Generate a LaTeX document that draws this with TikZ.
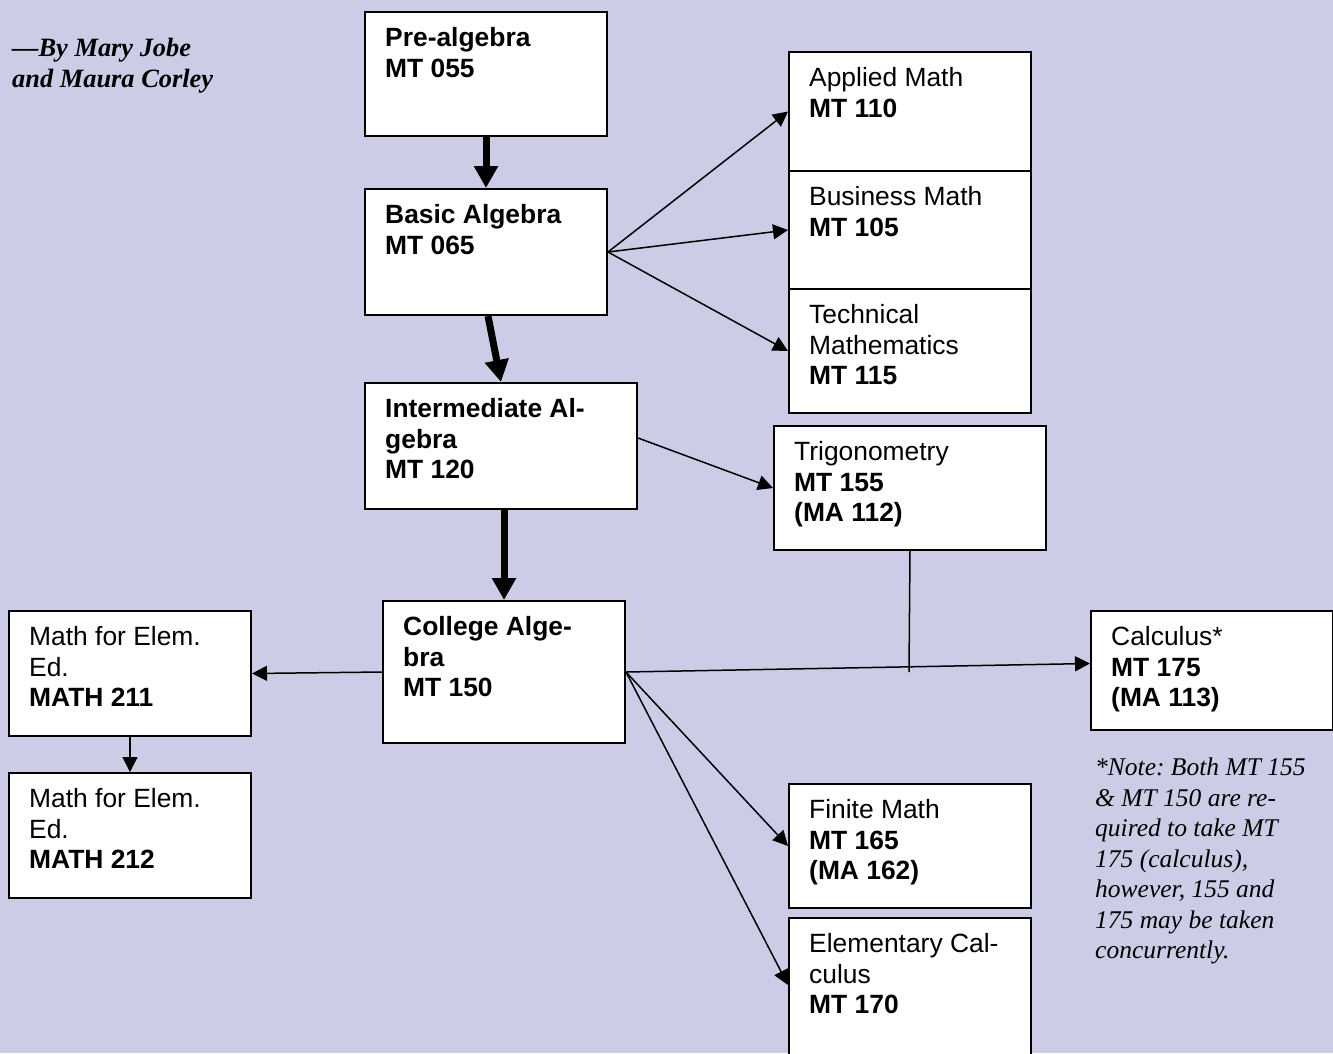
\documentclass[tikz,border=0pt]{standalone}
\usepackage{fontspec}
\setmainfont{Liberation Sans}
\newfontfamily\serifface{Liberation Serif}
\usetikzlibrary{arrows.meta,calc}
\definecolor{bg}{RGB}{204,204,230}
\frenchspacing
\begin{document}
\begin{tikzpicture}[x=1pt,y=-1pt,
  box/.style={draw=black, line width=2pt, fill=white, rectangle, anchor=north west, inner sep=0pt},
  lbl/.style={anchor=north west, inner sep=0pt, align=left, font=\fontsize{26.4}{30.5}\selectfont},
  thinarrow/.style={line width=1.5pt, -{Triangle[length=15pt,width=15pt]}},
  thickarrow/.style={line width=7pt, -{Triangle[length=22pt,width=23pt]}}]
\fill[bg] (0,0) rectangle (1333,1053);
\useasboundingbox (0,0) rectangle (1333,1053);

% boxes
\node[box, minimum width=242pt, minimum height=124pt] (pre) at (364,11) {};
\node[box, minimum width=242pt, minimum height=126pt] (basic) at (364,188) {};
\node[box, minimum width=272pt, minimum height=126pt] (inter) at (364,382) {};
\node[box, minimum width=242pt, minimum height=142pt] (coll) at (382,600) {};
\node[box, minimum width=242pt, minimum height=119pt] (appl) at (788,51) {};
\node[box, minimum width=242pt, minimum height=118pt] (bus) at (788,170) {};
\node[box, minimum width=242pt, minimum height=124pt] (tech) at (788,288) {};
\node[box, minimum width=272pt, minimum height=124pt] (trig) at (773,425) {};
\node[box, minimum width=242pt, minimum height=119pt] (calc) at (1090,610) {};
\node[box, minimum width=242pt, minimum height=124pt] (fin) at (788,783) {};
\node[box, minimum width=242pt, minimum height=145pt] (elc) at (788,917) {};
\node[box, minimum width=242pt, minimum height=125pt] (m211) at (8,610) {};
\node[box, minimum width=242pt, minimum height=125pt] (m212) at (8,772) {};

% labels
\node[lbl] (preL) at ($(pre.north west)+(21,14)$) {\strut\textbf{Pre-algebra}\\\strut\textbf{MT 055}};
\node[lbl] (basicL) at ($(basic.north west)+(21,14)$) {\strut\textbf{Basic Algebra}\\\strut\textbf{MT 065}};
\node[lbl] (interL) at ($(inter.north west)+(21,14)$) {\strut\textbf{Intermediate Al-}\\\strut\textbf{gebra}\\\strut\textbf{MT 120}};
\node[lbl] (collL) at ($(coll.north west)+(21,14)$) {\strut\textbf{College Alge-}\\\strut\textbf{bra}\\\strut\textbf{MT 150}};
\node[lbl] (applL) at ($(appl.north west)+(21,14)$) {\strut Applied Math\\\strut\textbf{MT 110}};
\node[lbl] (busL) at ($(bus.north west)+(21,14)$) {\strut Business Math\\\strut\textbf{MT 105}};
\node[lbl] (techL) at ($(tech.north west)+(21,14)$) {\strut Technical\\\strut Mathematics\\\strut\textbf{MT 115}};
\node[lbl] (trigL) at ($(trig.north west)+(21,14)$) {\strut Trigonometry\\\strut\textbf{MT 155}\\\strut\textbf{(MA 112)}};
\node[lbl] (calcL) at ($(calc.north west)+(21,14)$) {\strut Calculus*\\\strut\textbf{MT 175}\\\strut\textbf{(MA 113)}};
\node[lbl] (finL) at ($(fin.north west)+(21,14)$) {\strut Finite Math\\\strut\textbf{MT 165}\\\strut\textbf{(MA 162)}};
\node[lbl] (elcL) at ($(elc.north west)+(21,14)$) {\strut Elementary Cal-\\\strut culus\\\strut\textbf{MT 170}};
\node[lbl] (m211L) at ($(m211.north west)+(21,14)$) {\strut Math for Elem.\\\strut Ed.\\\strut\textbf{MATH 211}};
\node[lbl] (m212L) at ($(m212.north west)+(21,14)$) {\strut Math for Elem.\\\strut Ed.\\\strut\textbf{MATH 212}};

% free text
\node[anchor=north west, inner sep=0pt, align=left, font=\serifface\fontsize{26.4}{31}\selectfont\bfseries\itshape] (author) at (12,35) {\strut\textemdash By Mary Jobe\\\strut and Maura Corley};
\node[anchor=north west, inner sep=0pt, align=left, font=\serifface\fontsize{25.5}{30.5}\selectfont\itshape] (note) at (1095,754) {\strut *Note: Both MT 155\\\strut \& MT 150 are re-\\\strut quired to take MT\\\strut 175 (calculus),\\\strut however, 155 and\\\strut 175 may be taken\\\strut concurrently.};

% connectors
\draw[thickarrow] (pre.south) -- (basic.north);
\draw[thickarrow] ($(basic.south)+(2,0)$) -- (inter.north);
\draw[thickarrow] ($(inter.south)+(3,0)$) -- (coll.north);
\draw[thinarrow] (basic.east) -- (appl.west);
\draw[thinarrow] (basic.east) -- (bus.west);
\draw[thinarrow] (basic.east) -- (tech.west);
\draw[thinarrow] ($(inter.east)+(0,-8)$) -- (trig.west);
\draw[thinarrow] (coll.east) -- ($(calc.west)+(0,-7)$);
\coordinate (tj) at ($(trig.south)+(-1,121)$);
\draw[line width=1.5pt] (trig.south) -- (tj);
\draw[thinarrow] (coll.west) -- (m211.east);
\draw[thinarrow] (m211.south) -- (m212.north);
\draw[thinarrow] (coll.east) -- (fin.west);
\draw[thinarrow] (coll.east) -- ($(elc.north west)+(0,68)$);
\end{tikzpicture}
\end{document}
